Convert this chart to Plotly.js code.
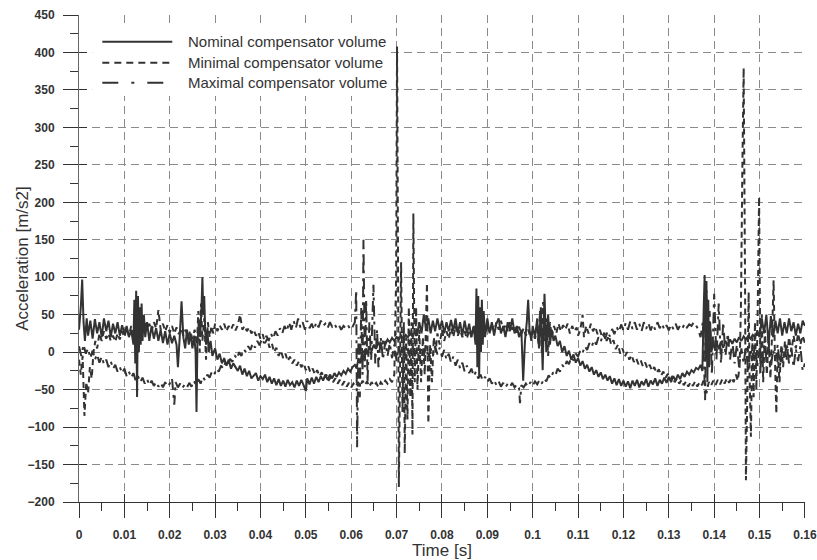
<!DOCTYPE html>
<html>
<head>
<meta charset="utf-8">
<script src="https://cdn.plot.ly/plotly-3.0.1.min.js"></script>
<style>html,body{margin:0;padding:0;background:#fff;}#chart{width:817px;height:560px;}</style>
</head>
<body>
<div id="chart"></div>
<script>
// ---------- data ----------
const seriesNames = ['Nominal compensator volume', 'Minimal compensator volume', 'Maximal compensator volume'];
const xTitle = 'Time [s]';
const yTitle = 'Acceleration [m/s2]';

const xTickVals = [0, 0.01, 0.02, 0.03, 0.04, 0.05, 0.06, 0.07, 0.08, 0.09, 0.1, 0.11, 0.12, 0.13, 0.14, 0.15, 0.16];
const xTickText = ['0', '0.01', '0.02', '0.03', '0.04', '0.05', '0.06', '0.07', '0.08', '0.09', '0.1', '0.11', '0.12', '0.13', '0.14', '0.15', '0.16'];
const xMinorVals = [0.005, 0.015, 0.025, 0.035, 0.045, 0.055, 0.065, 0.075, 0.085, 0.095, 0.105, 0.115, 0.125, 0.135, 0.145, 0.155];
const yTickStep = 50;
const xRange = [0, 0.16002];
const yRange = [-200, 450];

const nominalT = [
0, 0.0004, 0.0007, 0.001, 0.0013, 0.0017, 0.002, 0.0025, 0.003, 0.0035,
0.004, 0.0045, 0.005, 0.0055, 0.006, 0.0065, 0.007, 0.0075, 0.008, 0.0085,
0.009, 0.0095, 0.01, 0.0105, 0.011, 0.0115, 0.012, 0.0122, 0.0124, 0.0126,
0.0128, 0.013, 0.0132, 0.0134, 0.0136, 0.0138, 0.014, 0.0143, 0.0146, 0.015,
0.0155, 0.016, 0.0165, 0.017, 0.0175, 0.018, 0.0185, 0.019, 0.0195, 0.02,
0.0205, 0.021, 0.0215, 0.0218, 0.0222, 0.0226, 0.023, 0.0234, 0.0238, 0.0242,
0.0246, 0.025, 0.0254, 0.0257, 0.0259, 0.0261, 0.0264, 0.0267, 0.027, 0.0272,
0.0274, 0.0276, 0.0278, 0.028, 0.0283, 0.0286, 0.029, 0.0294, 0.03, 0.0305,
0.031, 0.0315, 0.032, 0.0325, 0.033, 0.0335, 0.034, 0.035, 0.0355, 0.036,
0.0365, 0.037, 0.0375, 0.038, 0.039, 0.0395, 0.04, 0.0405, 0.041, 0.0415,
0.042, 0.0425, 0.043, 0.0435, 0.044, 0.0445, 0.045, 0.0455, 0.046, 0.0465,
0.047, 0.0475, 0.048, 0.0485, 0.049, 0.0495, 0.05, 0.0503, 0.0508, 0.0513,
0.0518, 0.0523, 0.0528, 0.0533, 0.0538, 0.0543, 0.0548, 0.0553, 0.0558, 0.0563,
0.0568, 0.0573, 0.0578, 0.0583, 0.0588, 0.0593, 0.0598, 0.0603, 0.0608, 0.0612,
0.0616, 0.062, 0.0624, 0.0628, 0.0632, 0.0636, 0.064, 0.0645, 0.065, 0.0655,
0.066, 0.0665, 0.067, 0.0675, 0.068, 0.0685, 0.069, 0.0695, 0.07, 0.0705,
0.071, 0.0715, 0.072, 0.0725, 0.073, 0.0735, 0.074, 0.0745, 0.075, 0.0755,
0.076, 0.0765, 0.077, 0.0775, 0.078, 0.0785, 0.079, 0.0795, 0.08, 0.0805,
0.081, 0.0815, 0.082, 0.0825, 0.083, 0.0835, 0.084, 0.0845, 0.085, 0.0855,
0.086, 0.0865, 0.087, 0.0874, 0.0876, 0.0878, 0.088, 0.0882, 0.0884, 0.0886,
0.0888, 0.089, 0.0892, 0.0895, 0.09, 0.0905, 0.091, 0.0915, 0.092, 0.0925,
0.093, 0.0935, 0.094, 0.0945, 0.095, 0.0955, 0.096, 0.0965, 0.097, 0.0975,
0.0979, 0.0983, 0.0987, 0.099, 0.0993, 0.0997, 0.1, 0.1005, 0.101, 0.1014,
0.1018, 0.1022, 0.1026, 0.103, 0.1034, 0.1038, 0.1042, 0.1046, 0.105, 0.1055,
0.106, 0.1065, 0.107, 0.1075, 0.108, 0.1085, 0.109, 0.1095, 0.11, 0.1105,
0.111, 0.1115, 0.112, 0.1125, 0.113, 0.1135, 0.114, 0.1145, 0.115, 0.1155,
0.116, 0.1165, 0.117, 0.1175, 0.118, 0.1185, 0.119, 0.1195, 0.12, 0.1205,
0.121, 0.1215, 0.122, 0.1225, 0.123, 0.1235, 0.124, 0.1245, 0.125, 0.1255,
0.126, 0.1265, 0.127, 0.1275, 0.128, 0.1285, 0.129, 0.1295, 0.13, 0.1305,
0.131, 0.1315, 0.132, 0.1325, 0.133, 0.1335, 0.134, 0.1345, 0.135, 0.1355,
0.136, 0.1365, 0.137, 0.1374, 0.1377, 0.1379, 0.1381, 0.1383, 0.1385, 0.1387,
0.1389, 0.1391, 0.1394, 0.1398, 0.1402, 0.1406, 0.141, 0.1415, 0.142, 0.1425,
0.143, 0.1435, 0.144, 0.1445, 0.145, 0.1455, 0.146, 0.1465, 0.147, 0.1475,
0.148, 0.1485, 0.149, 0.1495, 0.15, 0.1505, 0.151, 0.1515, 0.152, 0.1525,
0.153, 0.1535, 0.154, 0.1545, 0.155, 0.1555, 0.156, 0.1565, 0.157, 0.1575,
0.158, 0.1585, 0.159, 0.1595, 0.16
];
const nominalAcc = [
30, 60, 97, 40, 15, 45, 22, 42, 18, 44,
25, 40, 20, 45, 28, 42, 20, 38, 25, 40,
22, 36, 25, 35, 20, 30, 10, 70, -15, 82,
-60, 75, 0, 60, 10, 65, 15, 50, 20, 40,
15, 35, 18, 32, 15, 30, 12, 28, 10, 25,
12, 22, 10, -20, 20, 68, 20, 5, 30, 10,
25, 5, 22, 0, -80, 10, 40, 20, 60, 100,
50, 75, 30, 10, 30, 0, 15, -5, 5, -10,
-2, -15, -8, -18, -10, -22, -15, -25, -18, -30,
-22, -32, -25, -35, -28, -38, -32, -36, -30, -40,
-33, -42, -35, -44, -36, -45, -38, -46, -37, -44,
-40, -47, -38, -45, -37, -44, -52, -35, -43, -34,
-42, -33, -40, -32, -38, -30, -37, -30, -35, -28,
-33, -27, -31, -25, -29, -22, -26, -20, -17, -22,
-8, -15, 0, -10, 5, -3, 8, 2, 10, 5,
12, 8, 14, 10, 17, 13, 19, 15, 20, 17,
22, 18, 23, 20, 25, 21, 27, 22, 40, 25,
50, 30, 45, 25, 42, 28, 45, 30, 42, 25,
40, 28, 43, 28, 45, 25, 40, 22, 42, 25,
38, 20, 35, 10, 85, -20, 75, -33, 60, 0,
70, 10, 55, 20, 45, 25, 40, 22, 38, 45,
25, 35, 20, 40, 28, 45, 25, 35, 20, 30,
-38, 15, 40, 70, 30, 15, 35, 20, 45, 5,
60, -24, 78, 0, 50, 10, 30, 15, 22, 8,
15, 0, 8, -5, 2, -10, -3, -14, -8, -18,
-12, -22, -17, -26, -20, -30, -24, -33, -27, -36,
-30, -38, -32, -42, -35, -44, -36, -45, -38, -46,
-39, -48, -38, -45, -37, -47, -39, -44, -36, -46,
-38, -43, -35, -45, -37, -42, -34, -41, -33, -40,
-32, -38, -30, -36, -28, -33, -26, -30, -24, -27,
-21, -23, -17, -25, 60, 103, -10, 95, -40, 70,
-20, 40, 0, 15, 2, 12, 4, 14, 6, 15,
9, 17, 11, 18, 13, 20, 15, 21, 17, 22,
18, 23, 20, 28, 20, 45, 25, 50, 10, 48,
20, 42, 25, 45, 22, 40, 25, 45, 28, 40,
22, 38, 25, 42, 35
];

const minimalT = [
0, 0.0004, 0.0008, 0.0012, 0.0016, 0.002, 0.0024, 0.0028, 0.0032, 0.0036,
0.004, 0.0045, 0.005, 0.0055, 0.006, 0.0065, 0.007, 0.0075, 0.008, 0.0085,
0.009, 0.0095, 0.01, 0.0105, 0.011, 0.0115, 0.012, 0.0125, 0.013, 0.0135,
0.014, 0.0145, 0.015, 0.0155, 0.016, 0.0165, 0.017, 0.0175, 0.018, 0.0185,
0.019, 0.0195, 0.02, 0.0205, 0.021, 0.0215, 0.022, 0.0225, 0.023, 0.0235,
0.024, 0.0245, 0.025, 0.0255, 0.026, 0.0263, 0.0266, 0.0269, 0.0272, 0.0276,
0.028, 0.0284, 0.0288, 0.0292, 0.0296, 0.03, 0.0305, 0.031, 0.0315, 0.032,
0.0325, 0.033, 0.0335, 0.034, 0.0345, 0.035, 0.0355, 0.036, 0.0365, 0.037,
0.0375, 0.038, 0.0385, 0.039, 0.0395, 0.04, 0.0405, 0.041, 0.0415, 0.042,
0.0425, 0.043, 0.0435, 0.044, 0.0445, 0.045, 0.0455, 0.046, 0.0465, 0.047,
0.0475, 0.048, 0.0485, 0.049, 0.0495, 0.05, 0.0505, 0.051, 0.0515, 0.052,
0.0525, 0.053, 0.0535, 0.054, 0.0545, 0.055, 0.0555, 0.056, 0.0565, 0.057,
0.0575, 0.058, 0.0585, 0.059, 0.0595, 0.06, 0.0605, 0.061, 0.0615, 0.062,
0.0625, 0.063, 0.0635, 0.064, 0.0645, 0.065, 0.0655, 0.066, 0.0665, 0.067,
0.0675, 0.068, 0.0685, 0.069, 0.0695, 0.0699, 0.0701, 0.0703, 0.0705, 0.0707,
0.071, 0.0713, 0.0716, 0.0718, 0.0721, 0.0724, 0.0727, 0.073, 0.0733, 0.0735,
0.0737, 0.074, 0.0743, 0.0746, 0.075, 0.0754, 0.0758, 0.0762, 0.0767, 0.077,
0.0774, 0.0778, 0.0782, 0.0786, 0.079, 0.0795, 0.08, 0.0805, 0.081, 0.0815,
0.082, 0.0825, 0.083, 0.0835, 0.084, 0.0845, 0.085, 0.0855, 0.086, 0.0865,
0.087, 0.0875, 0.088, 0.0885, 0.089, 0.0895, 0.09, 0.0905, 0.091, 0.0915,
0.092, 0.0925, 0.093, 0.0935, 0.094, 0.0945, 0.095, 0.0955, 0.096, 0.0965,
0.097, 0.0975, 0.098, 0.0985, 0.099, 0.0995, 0.1, 0.1005, 0.101, 0.1013,
0.1016, 0.102, 0.1023, 0.1027, 0.103, 0.1034, 0.1038, 0.1042, 0.1047, 0.1052,
0.1057, 0.1062, 0.1067, 0.1072, 0.1077, 0.1082, 0.1087, 0.1092, 0.1097, 0.11,
0.1105, 0.111, 0.1113, 0.1118, 0.1123, 0.1128, 0.1133, 0.1138, 0.1143, 0.1148,
0.1153, 0.1158, 0.1163, 0.1168, 0.1173, 0.1178, 0.1183, 0.1188, 0.1193, 0.1198,
0.1203, 0.1208, 0.1213, 0.1218, 0.1223, 0.1228, 0.1233, 0.1238, 0.1243, 0.1248,
0.1253, 0.1258, 0.1263, 0.1268, 0.1273, 0.1278, 0.1283, 0.1288, 0.1293, 0.1298,
0.1303, 0.1308, 0.1313, 0.1318, 0.1323, 0.1328, 0.1333, 0.1338, 0.1343, 0.1348,
0.1353, 0.1358, 0.1363, 0.1368, 0.1373, 0.1378, 0.1383, 0.1388, 0.1393, 0.1398,
0.1403, 0.1408, 0.1413, 0.1418, 0.1423, 0.1428, 0.1433, 0.1438, 0.1443, 0.1448,
0.1452, 0.1456, 0.1459, 0.1462, 0.1465, 0.1468, 0.147, 0.1473, 0.1476, 0.1478,
0.1481, 0.1484, 0.1487, 0.149, 0.1493, 0.1496, 0.1499, 0.1502, 0.1505, 0.1508,
0.1512, 0.1516, 0.152, 0.1524, 0.1528, 0.1531, 0.1534, 0.1537, 0.154, 0.1544,
0.1548, 0.1552, 0.1556, 0.156, 0.1565, 0.157, 0.1575, 0.158, 0.1585, 0.159,
0.1595, 0.16
];
const minimalAcc = [
-10, -30, -5, -85, -40, -55, -20, -35, 0, 15,
5, 25, 15, 28, 18, 25, 15, 22, 14, 25,
17, 28, 20, 32, 22, 35, 25, 38, 28, 40,
30, 42, 30, 38, 28, 40, 32, 56, 30, 38,
28, 36, 26, 35, 25, 33, 24, 32, 22, 30,
20, 28, 18, 30, 10, 55, 0, 65, 15, 45,
-10, 40, 20, 35, 25, 38, 28, 36, 30, 38,
28, 35, 30, 37, 29, 36, 50, 30, 35, 28,
33, 25, 30, 22, 27, 18, 24, 12, 18, 6,
12, 0, 6, -5, 2, -8, -2, -12, -6, -15,
-10, -18, -12, -20, -15, -24, -18, -27, -22, -30,
-24, -32, -27, -35, -30, -38, -33, -40, -35, -42,
-37, -44, -39, -46, -41, -47, -42, -46, -40, -45,
-38, -44, -39, -46, -40, -45, -41, -47, -40, -44,
-38, -42, -36, -40, -30, 100, 408, 150, -180, -60,
120, -80, 40, -135, 20, -90, 60, -60, 40, -110,
185, -40, 60, -50, 30, -40, 20, -30, 92, -95,
10, -40, 20, 0, 25, 10, 30, 15, 28, 18,
32, 20, 35, 22, 30, 20, 28, 18, 30, 20,
35, 25, 40, 28, 38, 26, 35, 25, 38, 28,
40, 30, 42, 30, 38, 28, 40, 30, 36, 26,
34, 24, 32, 22, 30, 20, 28, 18, 30, 10,
55, 0, 67, 15, 45, -5, 40, 20, 35, 25,
38, 28, 36, 30, 38, 25, 35, 28, 33, 22,
30, 50, 20, 35, 25, 38, 28, 34, 24, 30,
20, 26, 15, 22, 10, 16, 4, 10, -2, 5,
-6, 0, -10, -4, -13, -8, -16, -11, -19, -14,
-22, -17, -25, -20, -28, -23, -31, -26, -34, -29,
-37, -32, -40, -35, -42, -37, -44, -39, -46, -40,
-45, -39, -46, -40, -44, -35, -55, -40, -45, -38,
-44, -37, -43, -36, -42, -35, -41, -34, -40, -30,
-38, -20, 60, 240, 379, 100, -171, -60, 80, -30,
-113, 20, -60, 40, -50, 60, 207, -28, 50, -40,
30, -30, 20, -35, 30, 96, -10, -82, 0, -40,
10, -20, 15, -10, 20, 0, 22, 5, 25, 10,
22, 12
];

const maximalT = [
0, 0.0005, 0.001, 0.0015, 0.002, 0.0025, 0.003, 0.0035, 0.004, 0.0045,
0.005, 0.0055, 0.006, 0.0065, 0.007, 0.0075, 0.008, 0.0085, 0.009, 0.0095,
0.01, 0.0105, 0.011, 0.0115, 0.012, 0.0125, 0.013, 0.0135, 0.014, 0.0145,
0.015, 0.0155, 0.016, 0.0165, 0.017, 0.0175, 0.018, 0.0185, 0.019, 0.0195,
0.02, 0.0205, 0.021, 0.0213, 0.0218, 0.0223, 0.0228, 0.0233, 0.0238, 0.0243,
0.0248, 0.0253, 0.0258, 0.0263, 0.0268, 0.0273, 0.0278, 0.0283, 0.0288, 0.0293,
0.0298, 0.0303, 0.0308, 0.0313, 0.0318, 0.0323, 0.0328, 0.0333, 0.0338, 0.0343,
0.0348, 0.0353, 0.0358, 0.0363, 0.0368, 0.0373, 0.0378, 0.0383, 0.0388, 0.0393,
0.0398, 0.0403, 0.0408, 0.0413, 0.0418, 0.0423, 0.0428, 0.0433, 0.0438, 0.0443,
0.0448, 0.0453, 0.0458, 0.0463, 0.0468, 0.0473, 0.0478, 0.0483, 0.0488, 0.0493,
0.0498, 0.0503, 0.0508, 0.0513, 0.0518, 0.0523, 0.0528, 0.0533, 0.0538, 0.0543,
0.0548, 0.0553, 0.0558, 0.0563, 0.0568, 0.0573, 0.0578, 0.0583, 0.0588, 0.0593,
0.0598, 0.0603, 0.0608, 0.0611, 0.0613, 0.0616, 0.0619, 0.0622, 0.0625, 0.0627,
0.063, 0.0633, 0.0636, 0.064, 0.0644, 0.0649, 0.0653, 0.0657, 0.066, 0.0665,
0.067, 0.0675, 0.068, 0.0685, 0.069, 0.0695, 0.07, 0.0705, 0.071, 0.0715,
0.072, 0.0725, 0.073, 0.0735, 0.074, 0.0745, 0.075, 0.0755, 0.076, 0.0765,
0.077, 0.0775, 0.078, 0.0785, 0.079, 0.0795, 0.08, 0.0805, 0.081, 0.0815,
0.082, 0.0825, 0.083, 0.0835, 0.084, 0.0845, 0.085, 0.0855, 0.086, 0.0865,
0.087, 0.0875, 0.088, 0.0885, 0.089, 0.0895, 0.09, 0.0905, 0.091, 0.0915,
0.092, 0.0925, 0.093, 0.0935, 0.094, 0.0945, 0.095, 0.0955, 0.096, 0.0965,
0.097, 0.0972, 0.0975, 0.098, 0.0985, 0.099, 0.0995, 0.1, 0.1005, 0.101,
0.1015, 0.102, 0.1025, 0.103, 0.1035, 0.104, 0.1045, 0.105, 0.1055, 0.106,
0.1065, 0.107, 0.1075, 0.108, 0.1085, 0.109, 0.1095, 0.11, 0.1105, 0.111,
0.1115, 0.112, 0.1125, 0.113, 0.1135, 0.114, 0.1145, 0.115, 0.1155, 0.116,
0.1165, 0.117, 0.1175, 0.118, 0.1185, 0.119, 0.1195, 0.12, 0.1205, 0.121,
0.1215, 0.122, 0.1225, 0.123, 0.1235, 0.124, 0.1245, 0.125, 0.1255, 0.126,
0.1265, 0.127, 0.1275, 0.128, 0.1285, 0.129, 0.1295, 0.13, 0.1305, 0.131,
0.1315, 0.132, 0.1325, 0.133, 0.1335, 0.134, 0.1345, 0.135, 0.1355, 0.136,
0.1365, 0.137, 0.1375, 0.138, 0.1383, 0.1386, 0.139, 0.1395, 0.14, 0.1405,
0.141, 0.1415, 0.142, 0.1425, 0.143, 0.1435, 0.144, 0.1445, 0.145, 0.1455,
0.146, 0.1465, 0.147, 0.1475, 0.148, 0.1485, 0.149, 0.1495, 0.15, 0.1505,
0.151, 0.1515, 0.152, 0.1525, 0.153, 0.1535, 0.154, 0.1545, 0.155, 0.1555,
0.156, 0.1565, 0.157, 0.1575, 0.158, 0.1585, 0.159, 0.1595, 0.16
];
const maximalAcc = [
8, -5, 10, -2, 5, -8, 2, -10, -3, -14,
-6, -16, -10, -20, -12, -22, -17, -26, -20, -28,
-22, -32, -26, -34, -28, -38, -32, -40, -34, -42,
-36, -44, -38, -45, -40, -46, -41, -47, -40, -46,
-42, -35, -70, -40, -47, -42, -48, -43, -47, -41,
-46, -38, -44, -36, -42, -33, -38, -30, -34, -26,
-30, -22, -26, -18, -22, -13, -17, -9, -13, -4,
-9, 0, -5, 4, 0, 8, 3, 12, 6, 15,
9, 18, 12, 22, 15, 25, 18, 28, 22, 32,
25, 35, 28, 40, 30, 42, 32, 45, 33, 40,
30, 42, 32, 38, 30, 40, 33, 42, 35, 38,
32, 40, 34, 38, 32, 36, 30, 35, 32, 36,
30, 34, 40, 83, -127, 20, -60, 60, -30, 150,
-20, 70, -40, 40, -10, 90, -15, 30, -20, 20,
-10, 15, -5, 12, -8, 10, -12, 8, -5, 10,
-10, 5, -8, 8, -5, 6, -10, 4, -5, 8,
-8, 5, -5, 8, -3, 6, -6, 3, -10, -2,
-14, -6, -18, -10, -22, -14, -26, -18, -28, -22,
-32, -26, -35, -30, -38, -33, -40, -35, -42, -37,
-44, -39, -46, -41, -47, -42, -46, -41, -47, -43,
-48, -68, -44, -47, -42, -46, -40, -45, -39, -43,
-37, -42, -35, -39, -31, -35, -27, -31, -22, -26,
-17, -21, -12, -16, -7, -11, -2, -6, 3, -1,
8, 3, 12, 7, 16, 10, 20, 14, 24, 18,
28, 21, 31, 24, 34, 27, 37, 29, 39, 30,
41, 31, 40, 30, 38, 28, 40, 31, 39, 29,
37, 30, 40, 32, 38, 30, 36, 29, 37, 31,
38, 30, 36, 32, 38, 33, 37, 35, 40, 36,
30, 20, 40, -64, 83, -20, 55, -30, 78, -10,
65, -15, 40, -5, 25, -10, 15, -15, 10, -20,
5, -15, 8, -25, 5, -10, 10, -20, 5, -15,
12, -8, 8, -20, 3, -12, 10, -18, 5, -10,
12, -15, 6, -20, 4, -12, 8, -25, -15
];

// ---------- styling ----------
const FONT = 'Liberation Sans, Arial, Helvetica, sans-serif';
const INK = '#333333';
const dashes = ['solid', '6px,4px', '11px,5px,3px,5px'];
const legendDashes = ['solid', '7px,5px', '16px,13px,3px,13px'];

const traces = [
  {x: nominalT, y: nominalAcc, name: seriesNames[0]},
  {x: minimalT, y: minimalAcc, name: seriesNames[1]},
  {x: maximalT, y: maximalAcc, name: seriesNames[2]}
].map((t, i) => Object.assign(t, {
  type: 'scatter', mode: 'lines', hoverinfo: 'skip',
  line: {color: INK, width: 2, dash: dashes[i], simplify: false}
}));

// empty helper trace so the overlay axes (inner halves of major ticks) are drawn
traces.push({x: [null], y: [null], xaxis: 'x2', yaxis: 'y2', type: 'scatter', mode: 'lines', showlegend: false, hoverinfo: 'skip'});

// manual legend (white box, sample lines, labels)
const legX0 = 0.0321, legX1 = 0.1285, legTextX = 0.1467;
const legY = [0.9452, 0.9021, 0.861];
const shapes = [{
  type: 'rect', xref: 'paper', yref: 'paper', x0: 0.0183, x1: 0.4288, y0: 0.8337, y1: 0.9774,
  fillcolor: '#ffffff', line: {width: 0}, layer: 'above'
}];
const annotations = [];
seriesNames.forEach((nm, i) => {
  shapes.push({type: 'line', xref: 'paper', yref: 'paper', x0: legX0, x1: legX1, y0: legY[i], y1: legY[i],
    line: {color: INK, width: 2, dash: legendDashes[i]}, layer: 'above'});
  annotations.push({xref: 'paper', yref: 'paper', x: legTextX, y: legY[i], xanchor: 'left', yanchor: 'middle',
    text: nm, showarrow: false, font: {family: FONT, size: 15, color: INK}});
});
// y axis title, placed as rotated text left of the tick labels
annotations.push({xref: 'paper', yref: 'paper', x: -0.0781, y: 0.5, xanchor: 'center', yanchor: 'middle',
  textangle: -90, text: yTitle, showarrow: false, font: {family: FONT, size: 17, color: INK}});

const tickFont = {family: FONT, size: 12, weight: 'bold', color: INK};

const layout = {
  width: 817, height: 560,
  margin: {l: 79, r: 12, t: 15, b: 58, pad: 0},
  paper_bgcolor: '#ffffff', plot_bgcolor: '#ffffff',
  showlegend: false,
  font: {family: FONT, color: INK},
  xaxis: {
    range: xRange, tickmode: 'array', tickvals: xTickVals, ticktext: xTickText,
    showline: true, linecolor: INK, linewidth: 1,
    ticks: 'outside', ticklen: 15, tickwidth: 1, tickcolor: INK,
    minor: {tickmode: 'array', tickvals: xMinorVals, ticks: 'outside', ticklen: 8, tickwidth: 1, tickcolor: INK, showgrid: false},
    showgrid: true, gridcolor: '#8a8a8a', gridwidth: 1, griddash: '8px,5px',
    zeroline: false, automargin: false,
    tickfont: tickFont, ticklabelstandoff: 7,
    title: {text: xTitle, font: {family: FONT, size: 17, color: INK}, standoff: 5}
  },
  yaxis: {
    range: yRange, tickmode: 'linear', tick0: 0, dtick: yTickStep,
    showline: true, linecolor: '#666666', linewidth: 1,
    ticks: 'outside', ticklen: 15, tickwidth: 1, tickcolor: INK,
    minor: {tickmode: 'linear', tick0: 0, dtick: yTickStep / 2, ticks: 'outside', ticklen: 8, tickwidth: 1, tickcolor: INK, showgrid: false},
    showgrid: true, gridcolor: '#8a8a8a', gridwidth: 1, griddash: '8px,5px',
    zeroline: false, automargin: false,
    tickfont: tickFont, ticklabelstandoff: 6
  },
  xaxis2: {
    range: xRange, overlaying: 'x', anchor: 'y2', side: 'bottom', tickmode: 'array', tickvals: xTickVals,
    ticks: 'inside', ticklen: 8, tickwidth: 1, tickcolor: INK,
    showticklabels: false, showgrid: false, showline: false, zeroline: false
  },
  yaxis2: {
    range: yRange, overlaying: 'y', anchor: 'x2', side: 'left', tickmode: 'linear', tick0: 0, dtick: yTickStep,
    ticks: 'inside', ticklen: 8, tickwidth: 1, tickcolor: INK,
    showticklabels: false, showgrid: false, showline: false, zeroline: false
  },
  shapes: shapes,
  annotations: annotations
};

Plotly.newPlot('chart', traces, layout, {displayModeBar: false, staticPlot: true, responsive: false});
</script>
</body>
</html>
